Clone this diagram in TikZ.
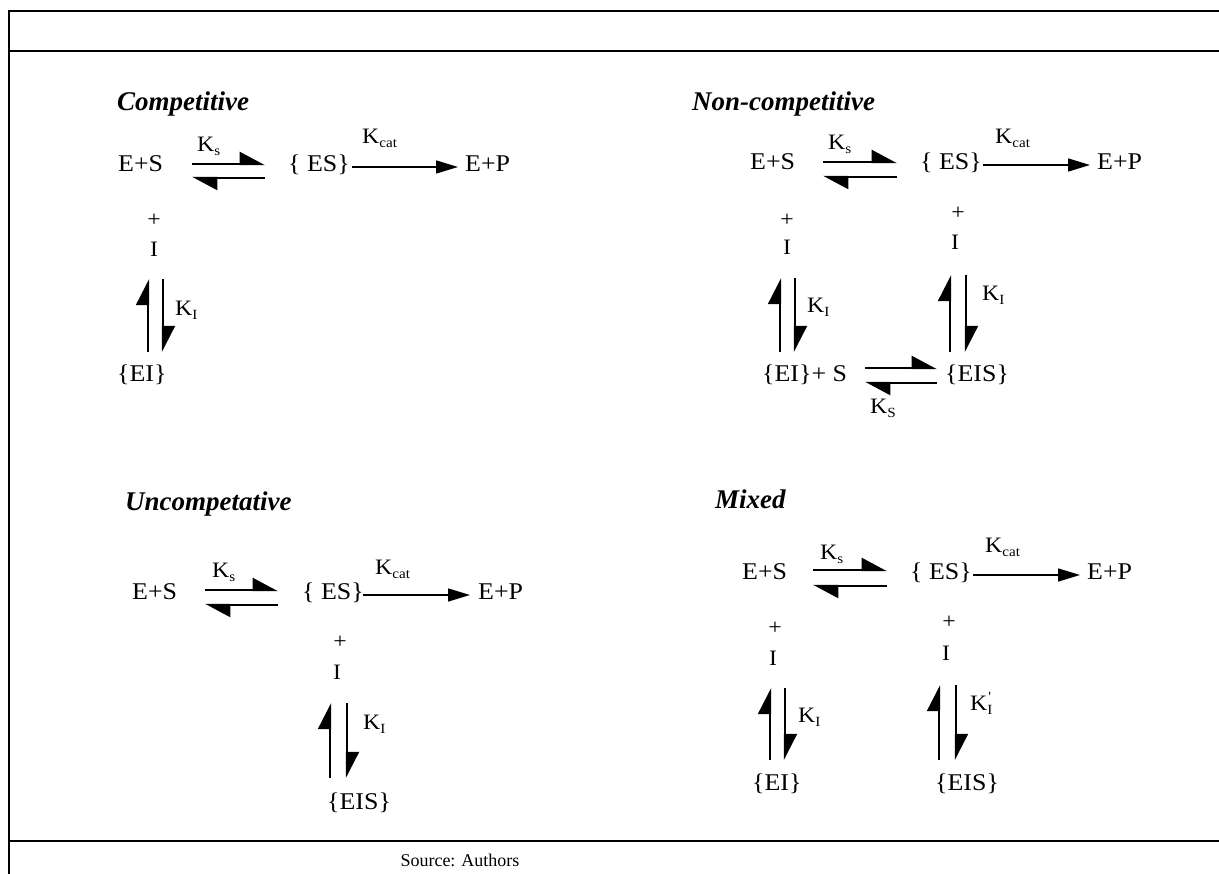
\documentclass[tikz,border=0pt]{standalone}
\usepackage{fontspec}
\setmainfont{Liberation Serif}
\newfontfamily\bodyfont{Liberation Serif}[FakeStretch=1.08]
\usetikzlibrary{arrows.meta}
\newcommand{\bsz}{\bodyfont\fontsize{24}{26}\selectfont}
\newcommand{\lsz}{\bodyfont\fontsize{22}{24}\selectfont}
\newcommand{\ssz}{\fontsize{14}{14}\selectfont}
\newcommand{\Kx}[1]{K{\ssz\raisebox{-4pt}{#1}}}
\newcommand{\Kp}{K\rlap{\ssz\raisebox{9pt}{\kern1pt'}}{\ssz\raisebox{-4pt}{I}}}
\newcommand{\eqH}[5]{%
  \coordinate (#1a) at (#2,#4); \coordinate (#1b) at (#3,#4);
  \coordinate (#1c) at (#3,#5); \coordinate (#1d) at (#2,#5);
  \draw[harp] (#1a) -- (#1b); \draw[harp] (#1c) -- (#1d);}
\newcommand{\eqV}[5]{%
  \coordinate (#1a) at (#2,#5); \coordinate (#1b) at (#2,#4);
  \coordinate (#1c) at (#3,#4); \coordinate (#1d) at (#3,#5);
  \draw[harpv] (#1a) -- (#1b); \draw[harpv] (#1c) -- (#1d);}
\begin{document}
\begin{tikzpicture}[x=1pt,y=-1pt,
  txt/.style={anchor=base west,inner sep=0pt,font=\bsz},
  lbl/.style={anchor=base west,inner sep=0pt,font=\lsz},
  ttl/.style={anchor=base west,inner sep=0pt,font=\fontsize{27}{30}\selectfont\bfseries\itshape},
  plus/.style={anchor=center,inner sep=0pt,font=\lsz},
  harp/.style={line width=2.4pt,-{Triangle[harpoon,length=23pt,width=24pt]}},
  harpv/.style={line width=2.2pt,-{Triangle[harpoon,length=24pt,width=24pt]}},
  cat/.style={line width=1.5pt,-{Triangle[length=22pt,width=13pt]}},
  frame/.style={line width=2pt}]
\useasboundingbox (0,0) rectangle (1219,874);
% frame
\coordinate (f1) at (8.5,874); \coordinate (f2) at (8.5,11); \coordinate (f3) at (1219,11);
\coordinate (f4) at (8.5,51); \coordinate (f5) at (1219,51);
\coordinate (f6) at (8.5,841); \coordinate (f7) at (1219,841);
\draw[frame] (f1) -- (f2) -- (f3);
\draw[frame] (f4) -- (f5);
\draw[frame] (f6) -- (f7);

% ---------- Competitive
\node[ttl] (Ct) at (117,111) {Competitive};
\node[txt] (CES) at (118,172) {E+S};
\eqH{Ch}{192}{265}{164}{178}
\node[lbl] (CKs) at (197,152) {\Kx{s}};
\node[txt] (CES2) at (288,172) {\{ ES\}};
\coordinate (Cka) at (352,167); \coordinate (Ckb) at (458,167);
\draw[cat] (Cka) -- (Ckb);
\node[lbl] (CKc) at (362,144) {\Kx{cat}};
\node[txt] (CEP) at (465,172) {E+P};
\node[plus] (Cp) at (154,220) {+};
\node[lbl,anchor=base] (CI) at (154,257) {I};
\eqV{Cv}{148}{163}{279}{352}
\node[lbl] (CKI) at (175,316) {\Kx{I}};
\node[txt] (CEI) at (117,382) {\{EI\}};

% ---------- Non-competitive
\node[ttl] (Nt) at (692,111) {Non-competitive};
\node[txt] (NES) at (750,170) {E+S};
\eqH{Nh}{823}{897}{162}{177}
\node[lbl] (NKs) at (828,150) {\Kx{s}};
\node[txt] (NES2) at (920,170) {\{ ES\}};
\coordinate (Nka) at (983,165); \coordinate (Nkb) at (1090,165);
\draw[cat] (Nka) -- (Nkb);
\node[lbl] (NKc) at (995,144) {\Kx{cat}};
\node[txt] (NEP) at (1097,170) {E+P};
\node[plus] (Np1) at (787,220) {+};
\node[lbl,anchor=base] (NI1) at (787,255) {I};
\eqV{Nv1}{780}{795}{278}{352}
\node[lbl] (NKI1) at (807,313) {\Kx{I}};
\node[plus] (Np2) at (958,213) {+};
\node[lbl,anchor=base] (NI2) at (955,250) {I};
\eqV{Nv2}{950}{966}{275}{352}
\node[lbl] (NKI2) at (982,301) {\Kx{I}};
\node[txt] (NEIS0) at (762,382) {\{EI\}+ S};
\eqH{Nh2}{865}{937}{368}{383}
\node[txt] (NEIS) at (945,382) {\{EIS\}};
\node[lbl] (NKS) at (870,414) {\Kx{S}};

% ---------- Uncompetative
\node[ttl] (Ut) at (125,511) {Uncompetative};
\node[txt] (UES) at (132,599) {E+S};
\eqH{Uh}{205}{278}{590}{605}
\node[lbl] (UKs) at (212,577) {\Kx{s}};
\node[txt] (UES2) at (302,599) {\{ ES\}};
\coordinate (Uka) at (363,595); \coordinate (Ukb) at (470,595);
\draw[cat] (Uka) -- (Ukb);
\node[lbl] (UKc) at (375,574) {\Kx{cat}};
\node[txt] (UEP) at (478,599) {E+P};
\node[plus] (Up) at (340,642) {+};
\node[lbl,anchor=base] (UI) at (337,679) {I};
\eqV{Uv}{330}{347}{703}{778}
\node[lbl] (UKI) at (363,729) {\Kx{I}};
\node[txt] (UEIS) at (327,809) {\{EIS\}};

% ---------- Mixed
\node[ttl] (Mt) at (715,509) {Mixed};
\node[txt] (MES) at (742,579) {E+S};
\eqH{Mh}{813}{887}{570}{586}
\node[lbl] (MKs) at (820,559) {\Kx{s}};
\node[txt] (MES2) at (910,579) {\{ ES\}};
\coordinate (Mka) at (973,575); \coordinate (Mkb) at (1080,575);
\draw[cat] (Mka) -- (Mkb);
\node[lbl] (MKc) at (985,552) {\Kx{cat}};
\node[txt] (MEP) at (1087,579) {E+P};
\node[plus] (Mp1) at (775,628) {+};
\node[lbl,anchor=base] (MI1) at (773,665) {I};
\eqV{Mv1}{770}{785}{688}{760}
\node[lbl] (MKI1) at (798,722) {\Kx{I}};
\node[plus] (Mp2) at (949,622) {+};
\node[lbl,anchor=base] (MI2) at (946,660) {I};
\eqV{Mv2}{939}{956}{685}{760}
\node[lbl] (MKI2) at (970,710) {\Kp};
\node[txt] (MEI) at (752,790) {\{EI\}};
\node[txt] (MEIS) at (935,790) {\{EIS\}};

% source
\node[anchor=base,inner sep=0pt,font=\fontsize{18}{20}\selectfont] (src) at (460,866) {Source: Authors};
\end{tikzpicture}
\end{document}
